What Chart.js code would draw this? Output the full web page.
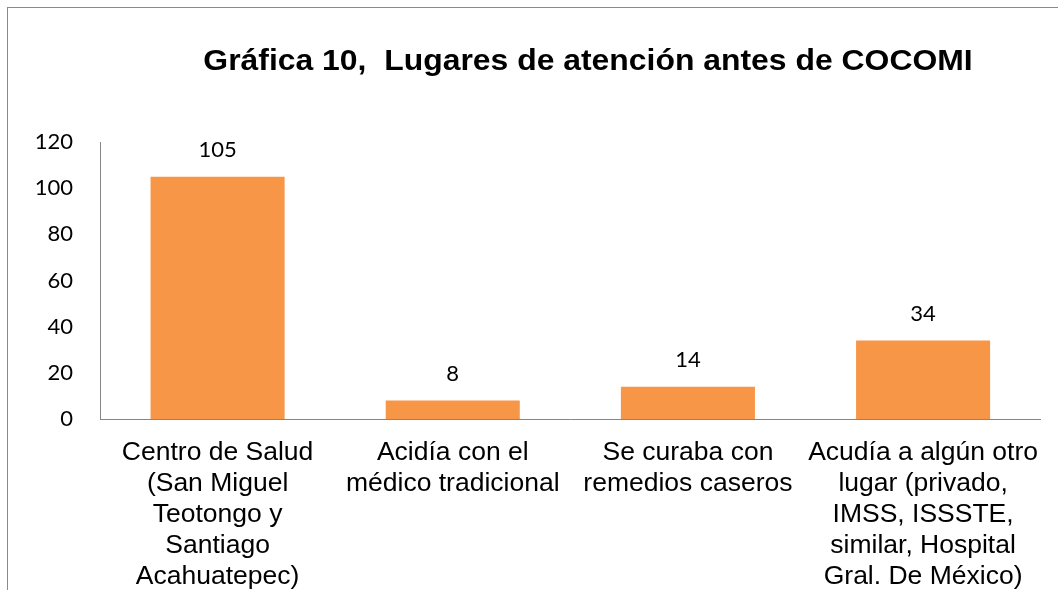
<!DOCTYPE html>
<html>
<head>
<meta charset="utf-8">
<script src="https://cdn.jsdelivr.net/npm/chart.js@4"></script>
<style>
  html, body { margin: 0; padding: 0; background: #fff; }
  #wrap { position: relative; width: 1058px; height: 590px; overflow: hidden; }
  #frame { position: absolute; left: 7px; top: 7px; right: -10px; bottom: -10px;
           border-left: 1px solid #8a8a8a; border-top: 1px solid #8a8a8a; }
  #chart { position: absolute; left: 0; top: 0; }
</style>
</head>
<body>
<div id="wrap">
  <div id="frame"></div>
  <canvas id="chart" width="1058" height="590"></canvas>
</div>
<script>
// ====== DATA ======
const TITLE = "Gráfica 10,  Lugares de atención antes de COCOMI";
const CATEGORIES = [
  ["Centro de Salud", "(San Miguel", "Teotongo y", "Santiago", "Acahuatepec)"],
  ["Acidía con el", "médico tradicional"],
  ["Se curaba con", "remedios caseros"],
  ["Acudía a algún otro", "lugar (privado,", "IMSS, ISSSTE,", "similar, Hospital", "Gral. De México)"]
];
const VALUES = [105, 8, 14, 34];
const Y_MAX = 120;
const Y_STEP = 20;

const BAR_COLOR = "#F79646";
const AXIS_COLOR = "#868686";

// title drawn by hand: sits right of centre and is a bit stretched, like the original
const titlePlugin = {
  id: "titleText",
  afterDraw(chart) {
    const ctx = chart.ctx;
    ctx.save();
    ctx.font = "bold 29px 'Liberation Sans', Arial, sans-serif";
    ctx.fillStyle = "#000";
    ctx.textAlign = "center";
    ctx.textBaseline = "middle";
    ctx.translate(588, 62);
    ctx.scale(1.1, 1);
    ctx.fillText(TITLE, 0, 0);
    ctx.restore();
  }
};

// value labels above each bar
const valueLabels = {
  id: "valueLabels",
  afterDatasetsDraw(chart) {
    const ctx = chart.ctx;
    const meta = chart.getDatasetMeta(0);
    ctx.save();
    ctx.font = "22px Lato, 'Open Sans', sans-serif";
    ctx.fillStyle = "#000";
    ctx.textAlign = "center";
    ctx.textBaseline = "middle";
    meta.data.forEach((bar, i) => {
      ctx.fillText(String(VALUES[i]), bar.x, bar.y - 27);
    });
    ctx.restore();
  }
};

new Chart(document.getElementById("chart"), {
  type: "bar",
  data: {
    labels: CATEGORIES,
    datasets: [{
      data: VALUES,
      backgroundColor: BAR_COLOR,
      borderWidth: 0,
      barPercentage: 0.57,
      categoryPercentage: 1
    }]
  },
  options: {
    responsive: false,
    animation: false,
    layout: { padding: { top: 142, right: 16, left: 0, bottom: 0 } },
    plugins: {
      legend: { display: false },
      title: { display: false },
      tooltip: { enabled: false }
    },
    scales: {
      x: {
        grid: { display: false, drawTicks: false, tickLength: 0 },
        border: { display: true, color: AXIS_COLOR, width: 1 },
        ticks: {
          color: "#000",
          font: { family: "'Liberation Sans', Arial, sans-serif", size: 26.5, lineHeight: 1.17 },
          padding: 18,
          maxRotation: 0,
          autoSkip: false
        },
        afterFit(scale) { scale.height = 171; }
      },
      y: {
        min: 0,
        max: Y_MAX,
        grid: { display: false, drawTicks: false, tickLength: 0 },
        border: { display: true, color: AXIS_COLOR, width: 1 },
        ticks: {
          stepSize: Y_STEP,
          color: "#000",
          font: { family: "Lato, 'Open Sans', sans-serif", size: 22 },
          padding: 27
        },
        afterFit(scale) { scale.width = 100; }
      }
    }
  },
  plugins: [titlePlugin, valueLabels]
});
</script>
</body>
</html>
